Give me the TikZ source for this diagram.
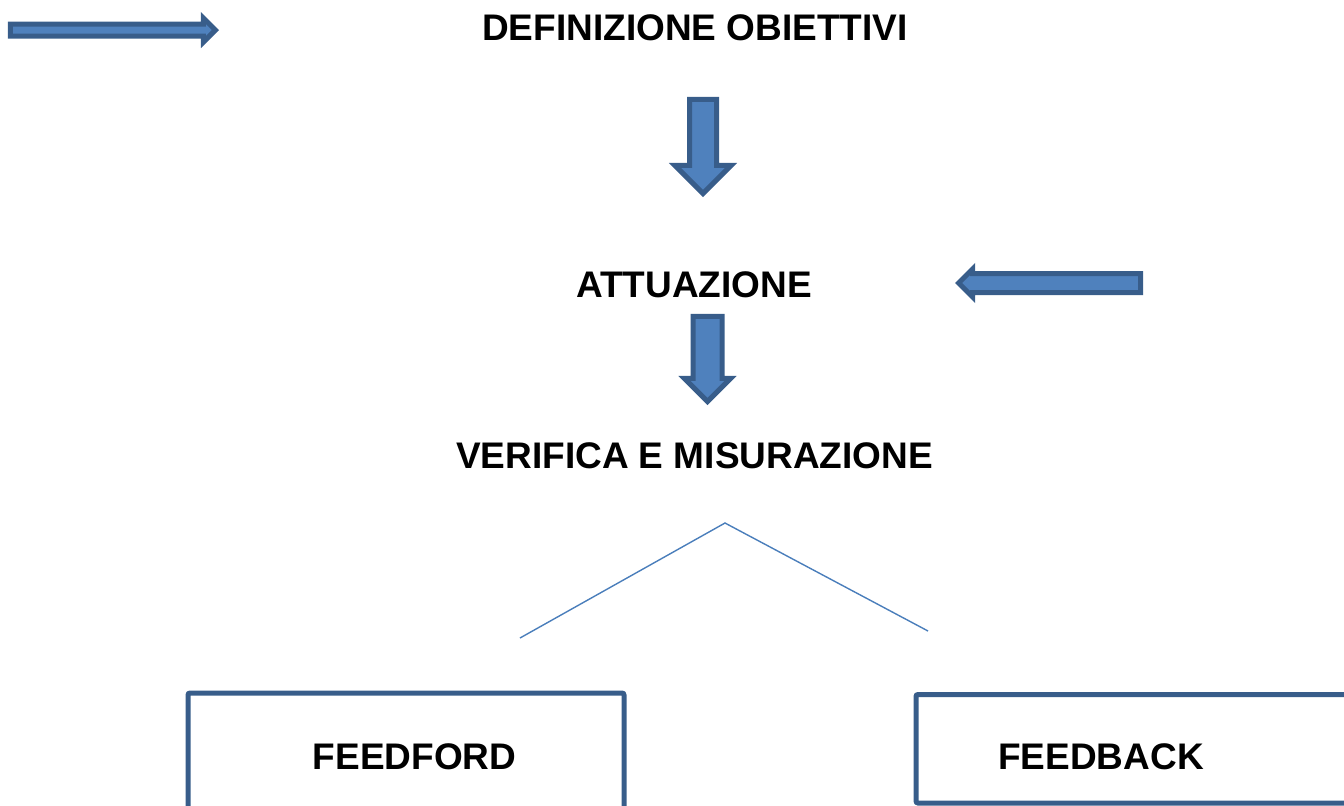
\documentclass[tikz,border=0pt]{standalone}
\usepackage{fontspec}
\setmainfont{Liberation Sans}
\usepackage{xcolor}
\usepackage{tikz}
\usetikzlibrary{shapes.arrows}
\definecolor{arrowedge}{HTML}{385D8A}
\definecolor{arrowfill}{HTML}{4F81BD}
\definecolor{branchline}{HTML}{4A7EBB}

\begin{document}
\begin{tikzpicture}[
        x=0.5pt, y=-0.5pt,
        blockarrow/.style={single arrow, draw=arrowedge, fill=arrowfill, line width=2.5pt, inner xsep=0pt, single arrow head indent=0pt, anchor=tip},
        title/.style={font=\fontsize{18.5}{22}\selectfont\bfseries, text=black, inner sep=0pt},
        outbox/.style={draw=arrowedge, line width=2.5pt, rounded corners=1pt, inner sep=0pt}
    ]
        \useasboundingbox (0,0) rectangle (1344,805);
        \clip (0,0) rectangle (1344,805);

        \node[title] (goals) at (695,28) {DEFINIZIONE OBIETTIVI};
        \node[title] (act) at (694,285) {ATTUAZIONE};
        \node[title] (check) at (694.5,456) {VERIFICA E MISURAZIONE};

        \node[blockarrow, minimum height=102.5pt, inner ysep=1.75pt, single arrow head extend=3pt] (inarrow) at (219,30) {};
        \node[blockarrow, rotate=-90, minimum height=47pt, inner ysep=5.5pt, single arrow head extend=7.25pt] (down1) at (703,197) {};
        \node[blockarrow, rotate=180, minimum height=91pt, inner ysep=3.5pt, single arrow head extend=2.25pt] (backarrow) at (955,283) {};
        \node[blockarrow, rotate=-90, minimum height=42.5pt, inner ysep=6pt, single arrow head extend=4.25pt] (down2) at (707.5,405) {};

        \coordinate (split) at (725,523);
        \coordinate (leftend) at (520,638);
        \coordinate (rightend) at (928,631);
        \draw[branchline, line width=0.7pt] (leftend) -- (split) -- (rightend);

        \node[outbox, minimum width=218pt, minimum height=64.5pt] (ffbox) at (406,757.5) {};
        \node[outbox, minimum width=222pt, minimum height=54.25pt] (fbbox) at (1138,748.75) {};
        \node[title] (ff) at (414.5,757) {FEEDFORD};
        \node[title] (fb) at (1101,757) {FEEDBACK};
    \end{tikzpicture}
\end{document}
